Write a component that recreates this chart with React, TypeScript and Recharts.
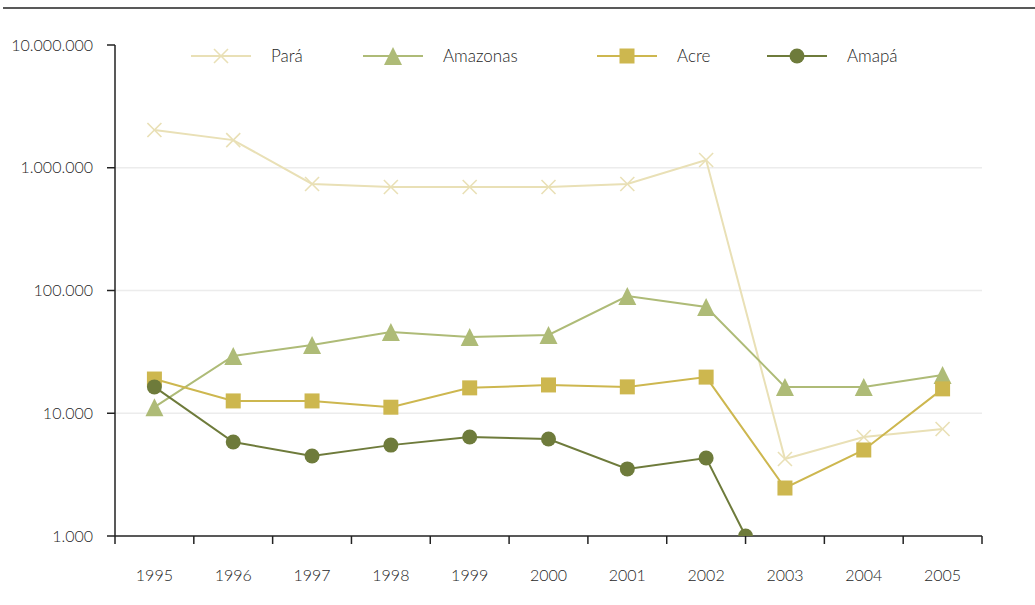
import React from 'react';
import { LineChart, Line, XAxis, YAxis, ReferenceLine } from 'recharts';

const years = [1995, 1996, 1997, 1998, 1999, 2000, 2001, 2002, 2003, 2004, 2005];
const para = [2030000, 1680000, 738000, 697000, 697000, 697000, 738000, 1156000, 4240, 6400, 7450];
const amazonas = [11200, 29300, 36000, 45900, 41800, 43400, 90000, 73400, 16400, 16400, 20500];
const acre = [19000, 12600, 12600, 11200, 16100, 17000, 16400, 19700, 2460, 5020, 15800];
// Amapá ends between 2002 and 2003, dropping to the bottom of the scale
const amapaYears = [1995, 1996, 1997, 1998, 1999, 2000, 2001, 2002, 2002.5];
const amapa = [16400, 5830, 4490, 5500, 6400, 6170, 3520, 4320, 1000];

const yTicks = [1000, 10000, 100000, 1000000, 10000000];
const gridValues = [10000, 100000, 1000000];
const xTicks = [1994.5, 1995.5, 1996.5, 1997.5, 1998.5, 1999.5, 2000.5, 2001.5, 2002.5, 2003.5, 2004.5, 2005.5];

const COLORS = {
  para: '#e9e0b6',
  amazonas: '#aebb77',
  acre: '#cdb74f',
  amapa: '#6e7b3b',
};

const W = 1035;
const H = 605;
const MARGIN = { top: 45, right: 53, bottom: 0, left: 15 };
const X_AXIS_H = 69;
const Y_AXIS_W = 100;
const BAND = (W - MARGIN.left - Y_AXIS_W - MARGIN.right) / years.length;
const FONT = 'Lato, "Open Sans", sans-serif';
const TEXT = '#1f1f1f';

const toRows = (xs: number[], vs: number[]) => xs.map((year, i) => ({ year, value: vs[i] }));

const fmt = (v: number) => String(v).replace(/\B(?=(\d{3})+(?!\d))/g, '.');

const Cross = ({ cx, cy, color }: any) => (
  <g stroke={color} strokeWidth={1.6}>
    <line x1={cx - 7} y1={cy - 7} x2={cx + 7} y2={cy + 7} />
    <line x1={cx - 7} y1={cy + 7} x2={cx + 7} y2={cy - 7} />
  </g>
);
const Triangle = ({ cx, cy, color }: any) => (
  <polygon points={`${cx},${cy - 9} ${cx - 9},${cy + 9} ${cx + 9},${cy + 9}`} fill={color} />
);
const Square = ({ cx, cy, color }: any) => (
  <rect x={cx - 7.5} y={cy - 7.5} width={15} height={15} fill={color} />
);
const Dot = ({ cx, cy, color }: any) => <circle cx={cx} cy={cy} r={7.5} fill={color} />;

const YearTick = ({ x, y, payload }: any) => {
  if (payload.value > 2005) return <g />;
  return (
    <text x={x + BAND / 2} y={y + 35} textAnchor="middle" fontSize={16} fontWeight={300} fill={TEXT} fontFamily={FONT}>
      {payload.value + 0.5}
    </text>
  );
};

const legendItems = [
  { name: 'Pará', color: COLORS.para, Mark: Cross, x: 191 },
  { name: 'Amazonas', color: COLORS.amazonas, Mark: Triangle, x: 363 },
  { name: 'Acre', color: COLORS.acre, Mark: Square, x: 597 },
  { name: 'Amapá', color: COLORS.amapa, Mark: Dot, x: 767 },
];

const series = [
  { key: 'para', color: COLORS.para, data: toRows(years, para), Mark: Cross },
  { key: 'amazonas', color: COLORS.amazonas, data: toRows(years, amazonas), Mark: Triangle },
  { key: 'acre', color: COLORS.acre, data: toRows(years, acre), Mark: Square },
  { key: 'amapa', color: COLORS.amapa, data: toRows(amapaYears, amapa), Mark: Dot },
];

export default function App() {
  return (
    <div style={{ position: 'absolute', left: 0, top: 0, width: W, height: H, background: '#fff' }}>
      <LineChart width={W} height={H} margin={MARGIN}>
        {gridValues.map((v) => (
          <ReferenceLine key={v} y={v} stroke="#ececec" strokeWidth={1.5} />
        ))}
        <XAxis
          type="number"
          dataKey="year"
          domain={[1994.5, 2005.5]}
          ticks={xTicks}
          interval={0}
          allowDecimals
          tick={YearTick}
          tickSize={8}
          stroke="#222"
          strokeWidth={1.5}
          height={X_AXIS_H}
        />
        <YAxis
          type="number"
          scale="log"
          domain={[1000, 10000000]}
          allowDataOverflow
          ticks={yTicks}
          interval={0}
          tickFormatter={fmt}
          tickSize={8}
          tickMargin={14}
          width={Y_AXIS_W}
          stroke="#222"
          strokeWidth={1.5}
          tick={{ fontSize: 16, fontWeight: 300, fill: TEXT, fontFamily: FONT }}
        />
        {series.map((s) => (
          <Line
            key={s.key}
            data={s.data}
            dataKey="value"
            stroke={s.color}
            strokeWidth={2}
            isAnimationActive={false}
            dot={(p: any) => <s.Mark key={`${s.key}-${p.index}`} cx={p.cx} cy={p.cy} color={s.color} />}
            activeDot={false}
          />
        ))}
      </LineChart>
      <svg width={W} height={H} style={{ position: 'absolute', left: 0, top: 0, pointerEvents: 'none' }}>
        <line x1={3} y1={8} x2={W} y2={8} stroke="#222" strokeWidth={1.3} />
        {legendItems.map(({ name, color, Mark, x }) => (
          <g key={name}>
            <line x1={x} y1={56} x2={x + 60} y2={56} stroke={color} strokeWidth={2} />
            <Mark cx={x + 30} cy={56} color={color} />
            <text x={x + 80} y={62} fontSize={17} fontWeight={300} fill={TEXT} fontFamily={FONT}>
              {name}
            </text>
          </g>
        ))}
      </svg>
    </div>
  );
}
